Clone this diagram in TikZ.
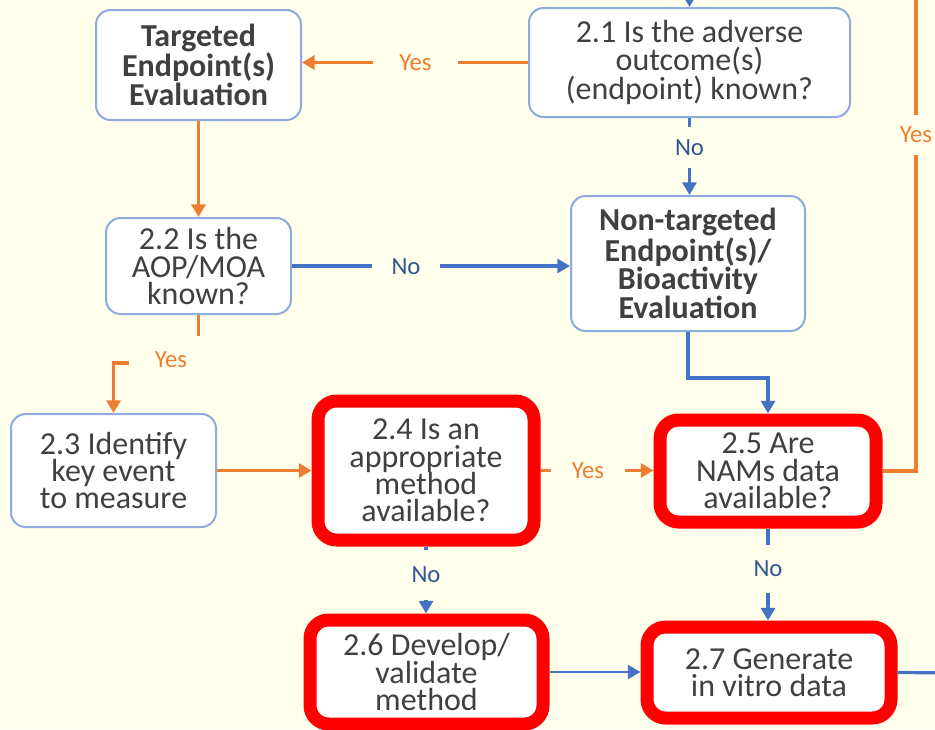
\documentclass[tikz,border=0pt]{standalone}
\usepackage{fontspec}
\setmainfont{Carlito}
\usetikzlibrary{arrows.meta,calc}

\definecolor{bg}{RGB}{255,255,235}
\definecolor{boxline}{RGB}{143,170,220}
\definecolor{txt}{RGB}{64,64,64}
\definecolor{orng}{RGB}{237,125,49}
\definecolor{blu}{RGB}{68,114,196}
\definecolor{nocol}{RGB}{47,85,151}
\definecolor{hl}{RGB}{255,0,0}

\tikzset{
  box/.style={draw=boxline, line width=1.5pt, fill=white, rounded corners=11pt,
    align=center, text=txt, font=\fontsize{24}{20.6}\selectfont, inner sep=0pt},
  redbox/.style={box, draw=hl, line width=9.75pt, rounded corners=14pt},
  oline/.style={draw=orng, line width=2.4pt},
  bline/.style={draw=blu, line width=2.4pt},
  tip/.style={-{Triangle[length=9.5pt,width=10.5pt]}},
  yeslbl/.style={fill=bg, text=orng, font=\fontsize{18.5}{20}\selectfont, inner sep=0pt},
  nolbl/.style={yeslbl, text=nocol},
}

\begin{document}
\begin{tikzpicture}[x=0.75pt, y=-0.75pt]
\useasboundingbox[fill=bg] (0,0) rectangle (935,729);
\clip (0,0) rectangle (935,729);

% decision and action boxes
\node[box, minimum width=153.75pt, minimum height=82.5pt] (targ) at (198.5,65)
  {\textbf{Targeted}\\\textbf{Endpoint(s)}\\\textbf{Evaluation}};
\node[box, minimum width=240.75pt, minimum height=81.75pt] (q21) at (689.5,62.5)
  {2.1 Is the adverse\\outcome(s)\\(endpoint) known?};
\node[box, minimum width=138.75pt, minimum height=72pt] (q22) at (198.5,266)
  {2.2 Is the\\AOP/MOA\\known?};
\node[box, minimum width=175.5pt, minimum height=101.25pt] (nt) at (688,263.5)
  {\textbf{Non-targeted}\\\textbf{Endpoint(s)/}\\\textbf{Bioactivity}\\\textbf{Evaluation}};
\node[box, minimum width=153.75pt, minimum height=84.75pt] (s23) at (113.5,470.5)
  {2.3 Identify\\key event\\to measure};
\node[redbox, minimum width=162pt, minimum height=104.25pt] (q24) at (426,470.5)
  {2.4 Is an\\appropriate\\method\\available?};
\node[redbox, minimum width=162pt, minimum height=76.5pt] (q25) at (768,471)
  {2.5 Are\\NAMs data\\available?};
\node[redbox, minimum width=174.75pt, minimum height=78pt] (s26) at (426.5,672)
  {2.6 Develop/\\validate\\method};
\node[redbox, minimum width=183pt, minimum height=68.25pt] (s27) at (769,672.5)
  {2.7 Generate\\in vitro data};

% loose ends leaving the frame
\coordinate (topin) at (689.5,-20);
\coordinate (topout) at (916,-20);
\coordinate (rightout) at (960,673);
\coordinate (ya) at (198.5,336);
\coordinate (yb) at (129,363);

% connectors
\draw[bline, tip] (topin) -- (q21.north);
\draw[oline, tip] (q21.west) -- (q21.west -| targ.east);
\draw[bline, tip] (q21.south) -- (q21.south |- nt.north);
\draw[oline, tip] (targ.south) -- (q22.north);
\draw[bline, tip] (q22.east) -- (q22.east -| nt.west);
\draw[oline] (q22.south) -- (ya);
\draw[oline, tip] (yb) -| (s23.north);
\draw[bline, tip] (nt.south) -- ++(0,46) -| (q25.north);
\draw[oline, tip] (s23.east) -- (s23.east -| q24.west);
\draw[oline, tip] (q24.east) -- (q24.east -| q25.west);
\draw[oline] (q25.east) -| (topout);
\draw[bline, tip] (q24.south) -- (q24.south |- s26.north);
\draw[bline, tip] (q25.south) -- (q25.south |- s27.north);
\draw[draw=blu, line width=1.4pt, tip] (s26.east) -- (s26.east -| s27.west);
\draw[bline] (s27.east) -- (rightout);

% branch labels
\node[yeslbl, minimum width=63.75pt, minimum height=18pt] (l1) at (415.5,62.5) {Yes};
\node[nolbl, minimum width=24pt, minimum height=30.75pt] (l2) at (689.5,147.5) {No};
\node[yeslbl, minimum width=30pt, minimum height=30pt] (l3) at (916,135) {Yes};
\node[nolbl, minimum width=51pt, minimum height=18pt] (l4) at (406,267) {No};
\node[yeslbl] (l5) at (171,360) {Yes};
\node[yeslbl, minimum width=55.5pt, minimum height=18pt] (l6) at (588,470.5) {Yes};
\node[nolbl, minimum width=24pt, minimum height=37.5pt] (l7) at (426,575) {No};
\node[nolbl, minimum width=24pt, minimum height=36pt] (l8) at (768,569) {No};
\end{tikzpicture}
\end{document}
